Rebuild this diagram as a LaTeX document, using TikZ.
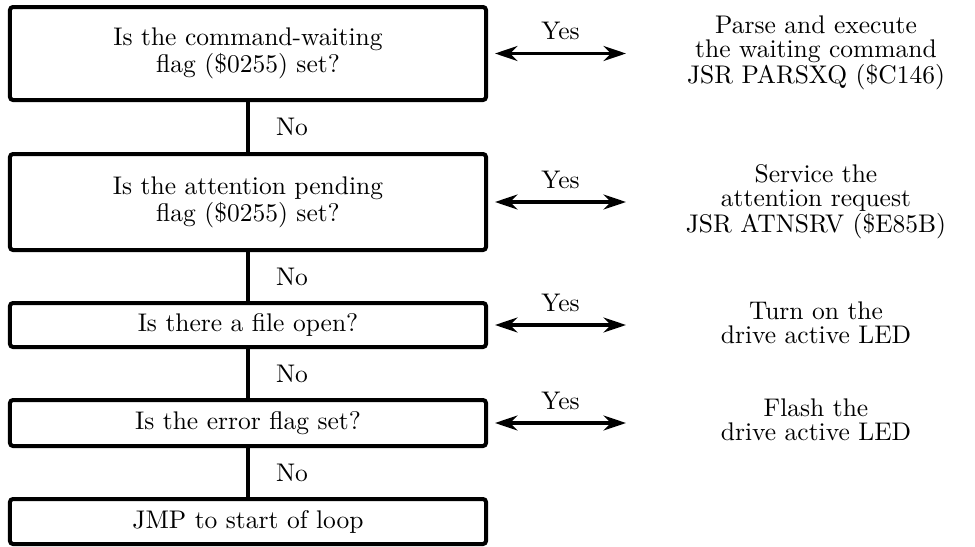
\documentclass[tikz,border=0pt]{standalone}
\usetikzlibrary{arrows.meta}
\newcommand{\flowfont}{\fontsize{10.2}{9.5}\selectfont}
\tikzset{
  qbox/.style={draw,line width=1.6pt,rounded corners=1.2pt,minimum width=190.4pt,inner sep=0pt,align=center,font=\flowfont},
  lbl/.style={align=center,font=\flowfont},
  flow/.style={line width=1.3pt},
  yesarrow/.style={{Stealth[length=9pt,width=6pt]}-{Stealth[length=9pt,width=6pt]},line width=1.3pt}
}
\begin{document}
\begin{tikzpicture}[x=0.4pt,y=-0.4pt]
\useasboundingbox (0,0) rectangle (975,547);
\coordinate (tipx) at (626,0);

\node[qbox,minimum height=37.2pt] (q1) at (248,53.5) {Is the command-waiting\\flag (\$0255) set?};
\node[qbox,minimum height=38.4pt] (q2) at (248,202) {Is the attention pending\\flag (\$0255) set?};
\node[qbox,minimum height=17.6pt] (q3) at (248,325) {Is there a file open?};
\node[qbox,minimum height=18.4pt] (q4) at (248,423) {Is the error flag set?};
\node[qbox,minimum height=18pt] (q5) at (248,521.5) {JMP to start of loop};

\draw[flow] (q1) -- (q2);
\draw[flow] (q2) -- (q3);
\draw[flow] (q3) -- (q4);
\draw[flow] (q4) -- (q5);
\node[lbl] (no1) at (292,127) {No};
\node[lbl] (no2) at (292,276.5) {No};
\node[lbl] (no3) at (292,373.5) {No};
\node[lbl] (no4) at (292,472.5) {No};

\node[lbl] (a1) at (816,53) {Parse and execute\\the waiting command\\JSR PARSXQ (\$C146)};
\node[lbl] (a2) at (816,202) {Service the\\attention request\\JSR ATNSRV (\$E85B)};
\node[lbl] (a3) at (816,323) {Turn on the\\drive active LED};
\node[lbl] (a4) at (816,420) {Flash the\\drive active LED};

\draw[yesarrow] ([xshift=2.8pt]q1.east) -- (q1.east -| tipx) node[midway,above,yshift=1.5pt,font=\flowfont] {Yes};
\draw[yesarrow] ([xshift=2.8pt]q2.east) -- (q2.east -| tipx) node[midway,above,yshift=1.5pt,font=\flowfont] {Yes};
\draw[yesarrow] ([xshift=2.8pt]q3.east) -- (q3.east -| tipx) node[midway,above,yshift=1.5pt,font=\flowfont] {Yes};
\draw[yesarrow] ([xshift=2.8pt]q4.east) -- (q4.east -| tipx) node[midway,above,yshift=1.5pt,font=\flowfont] {Yes};

\end{tikzpicture}
\end{document}
